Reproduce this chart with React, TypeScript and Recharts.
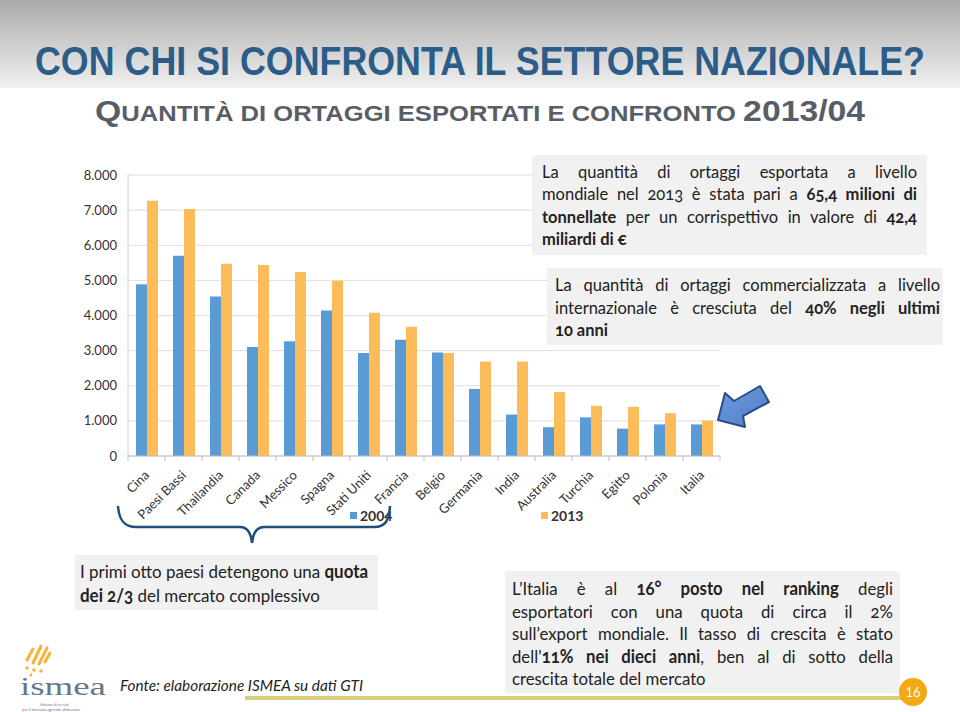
import React from "react";
import { Bar, BarChart, CartesianGrid, Legend, XAxis, YAxis } from "recharts";

// Quantità esportate (migliaia di t)
const countries = [
  "Cina", "Paesi Bassi", "Thailandia", "Canada", "Messico", "Spagna", "Stati Uniti", "Francia",
  "Belgio", "Germania", "India", "Australia", "Turchia", "Egitto", "Polonia", "Italia",
];
const export2004 = [4890, 5700, 4540, 3100, 3270, 4140, 2930, 3310, 2950, 1910, 1180, 820, 1100, 780, 900, 900];
const export2013 = [7270, 7030, 5470, 5440, 5240, 4990, 4080, 3680, 2930, 2690, 2690, 1820, 1430, 1400, 1220, 1010];
const yTicks = [0, 1000, 2000, 3000, 4000, 5000, 6000, 7000, 8000];

const BLUE = "#5b9bd5";
const ORANGE = "#fdbc5a";
const FONT = "Lato, 'Open Sans', sans-serif";
const BAND = (720 - 128) / countries.length;
const TITLE_SX = 0.83;

const fmt = (n: number) => String(n).replace(/\B(?=(\d{3})+(?!\d))/g, ".");

const rows = countries.map((name, i) => ({ name, y2004: export2004[i], y2013: export2013[i] }));

function CountryTick(props: any) {
  const { x, y, payload, index } = props;
  const ax = x + 3.5;
  const ay = y + 20;
  return (
    <g>
      <line x1={x - BAND / 2} x2={x - BAND / 2} y1={y} y2={y + 5} stroke="#bfbfbf" />
      {index === countries.length - 1 && (
        <line x1={x + BAND / 2} x2={x + BAND / 2} y1={y} y2={y + 5} stroke="#bfbfbf" />
      )}
      <text x={ax} y={ay} transform={`rotate(-45 ${ax} ${ay})`} textAnchor="end" fontSize={13} fill="#333" fontFamily={FONT}>
        {payload.value}
      </text>
    </g>
  );
}

function YearLegend({ payload }: any) {
  const pos = [350, 541];
  return (
    <div style={{ position: "relative", width: 740, height: 20 }}>
      {(payload || []).map((p: any, i: number) => (
        <div key={p.value} style={{ position: "absolute", left: pos[i], top: 1, display: "flex", alignItems: "center", fontFamily: FONT, fontSize: 14, fontWeight: 700, color: "#333" }}>
          <span style={{ display: "inline-block", width: 7, height: 7, background: p.color, marginRight: 3 }} />
          <span>{p.value}</span>
        </div>
      ))}
    </div>
  );
}

type Line = { content: React.ReactNode; justify?: boolean };

function TextBox({ left, top, width, height, padL, padT, textW, lineH, size, scale, lines }: {
  left: number; top: number; width: number; height: number; padL: number; padT: number;
  textW: number; lineH: number; size: number; scale: number; lines: Line[];
}) {
  return (
    <div style={{ position: "absolute", left, top, width, height, background: "#f1f1f1", overflow: "hidden" }}>
      <div style={{ position: "absolute", left: padL, top: padT }}>
        {lines.map((l, i) => (
          <div key={i} style={{
            width: textW / scale, height: lineH, lineHeight: `${lineH}px`, fontSize: size, fontFamily: FONT,
            color: "#222", transform: `scaleX(${scale})`, transformOrigin: "0 0", whiteSpace: "nowrap",
            textAlign: l.justify ? "justify" : "left", textAlignLast: l.justify ? "justify" : "left",
            fontVariantNumeric: "oldstyle-nums",
          }}>
            {l.content}
          </div>
        ))}
      </div>
    </div>
  );
}

export default function App() {
  return (
    <div style={{ position: "absolute", left: 0, top: 0, width: 960, height: 712, background: "#fff", overflow: "hidden", fontFamily: FONT }}>
      <div style={{ position: "absolute", left: 0, top: 0, width: 960, height: 88, background: "linear-gradient(#a9a9a9, #b9b9b9 20%, #f0f0f0)" }} />
      <svg width={960} height={130} style={{ position: "absolute", left: 0, top: 0 }}>
        <g transform={`translate(35 75) scale(${TITLE_SX} 1)`}>
          <text x={0} y={0} textLength={890 / TITLE_SX} lengthAdjust="spacingAndGlyphs" fontFamily="'Liberation Sans', Arial, sans-serif" fontWeight={700} fontSize={40} fill="#2c5d89">
            CON CHI SI CONFRONTA IL SETTORE NAZIONALE?
          </text>
        </g>
        <text x={95} y={121} textLength={770} lengthAdjust="spacingAndGlyphs" fontFamily="'Liberation Sans', Arial, sans-serif" fontWeight={700} fill="#585e67">
          <tspan fontSize={29}>Q</tspan>
          <tspan fontSize={22}>UANTITÀ DI ORTAGGI ESPORTATI E CONFRONTO </tspan>
          <tspan fontSize={29}>2013/04</tspan>
        </text>
      </svg>

      <div style={{ position: "absolute", left: 0, top: 160 }}>
        <BarChart width={740} height={366} data={rows} margin={{ top: 15, right: 20, left: 68, bottom: 0 }} barGap={0} barCategoryGap="21.6%">
          <CartesianGrid vertical={false} stroke="#dedede" />
          <XAxis dataKey="name" interval={0} height={50} tick={<CountryTick />} tickLine={false} tickSize={0} tickMargin={0} axisLine={{ stroke: "#bfbfbf" }} />
          <YAxis domain={[0, 8000]} ticks={yTicks} tickFormatter={fmt} width={60} tickLine={false} tickSize={0} tickMargin={11}
            axisLine={{ stroke: "#d0d0d0" }} tick={{ fill: "#333", fontSize: 13, fontFamily: FONT }} />
          <Legend verticalAlign="bottom" content={<YearLegend />} wrapperStyle={{ left: 0, width: 740 }} />
          <Bar dataKey="y2004" name="2004" fill={BLUE} isAnimationActive={false} />
          <Bar dataKey="y2013" name="2013" fill={ORANGE} isAnimationActive={false} />
        </BarChart>
      </div>

      <TextBox left={532} top={155} width={395} height={100} padL={10} padT={6} textW={375} lineH={22.3} size={16.5} scale={1}
        lines={[
          { content: "La quantità di ortaggi esportata a livello", justify: true },
          { content: <>mondiale nel 2013 è stata pari a <b>65,4 milioni di</b></>, justify: true },
          { content: <><b>tonnellate</b> per un corrispettivo in valore di <b>42,4</b></>, justify: true },
          { content: <b>miliardi di €</b> },
        ]} />
      <TextBox left={547} top={268} width={396} height={77} padL={8} padT={6} textW={385} lineH={22.5} size={16.5} scale={1}
        lines={[
          { content: "La quantità di ortaggi commercializzata a livello", justify: true },
          { content: <>internazionale è cresciuta del <b>40% negli ultimi</b></>, justify: true },
          { content: <b>10 anni</b> },
        ]} />
      <TextBox left={75} top={555} width={303} height={55} padL={5} padT={5} textW={295} lineH={23.5} size={18} scale={0.94}
        lines={[
          { content: <>I primi otto paesi detengono una <b>quota</b></> },
          { content: <><b>dei 2/3</b> del mercato complessivo</> },
        ]} />
      <TextBox left={505} top={571} width={395} height={122} padL={7} padT={6} textW={381} lineH={22.5} size={18} scale={0.93}
        lines={[
          { content: <>L’Italia è al <b>16° posto nel ranking</b> degli</>, justify: true },
          { content: "esportatori con una quota di circa il 2%", justify: true },
          { content: "sull’export mondiale. Il tasso di crescita è stato", justify: true },
          { content: <>dell’<b>11% nei dieci anni</b>, ben al di sotto della</>, justify: true },
          { content: "crescita totale del mercato" },
        ]} />

      <svg width={960} height={712} style={{ position: "absolute", left: 0, top: 0, pointerEvents: "none" }}>
        {/* parentesi sotto i primi otto paesi */}
        <path d="M118,506 C119,520 124,527 136,527 L240,527 C247,527 251,533 252,543 C253,533 257,527 264,527 L374,527 C386,527 389,520 390,506"
          fill="none" stroke="#1f4e79" strokeWidth={2.5} />
        {/* freccia verso l'Italia */}
        <defs>
          <linearGradient id="arr" x1="0" y1="0" x2="1" y2="1">
            <stop offset="0" stopColor="#6f9be0" />
            <stop offset="1" stopColor="#4f7cc6" />
          </linearGradient>
        </defs>
        <polygon points="718,420 725,393 734,401 760,386 769,402 743,416 745,427"
          fill="url(#arr)" stroke="#2b4d84" strokeWidth={2} strokeLinejoin="round" />
        {/* logo */}
        <g stroke="#f5b43a" strokeWidth={3} strokeLinecap="round">
          <line x1={27} y1={660} x2={33} y2={649} />
          <line x1={33} y1={663} x2={41} y2={646} />
          <line x1={39} y1={664} x2={47} y2={648} />
          <line x1={45} y1={662} x2={50} y2={653} />
        </g>
        <g fill="#f5b43a">
          <circle cx={27} cy={668} r={1.8} />
          <circle cx={34} cy={670} r={1.8} />
          <circle cx={41} cy={671} r={1.8} />
          <circle cx={31} cy={675} r={1.4} />
        </g>
        <text x={20} y={695} textLength={86} lengthAdjust="spacingAndGlyphs" fontFamily="'Liberation Serif', serif" fontSize={26} fill="#66768e">ismea</text>
        <text x={40} y={706} fontSize={4} fill="#777" fontFamily={FONT}>Istituto di servizi</text>
        <text x={22} y={711} fontSize={4} fill="#777" fontFamily={FONT}>per il mercato agricolo alimentare</text>
        <text x={120} y={691} fontSize={16} fontStyle="italic" fill="#222" fontFamily={FONT} textLength={243} lengthAdjust="spacingAndGlyphs">
          Fonte: elaborazione ISMEA su dati GTI
        </text>
        {/* linea e numero pagina */}
        <rect x={245} y={696} width={660} height={4} fill="#d8cd7e" />
        <circle cx={913} cy={692} r={14} fill="#f3a814" />
        <text x={913} y={697} textAnchor="middle" fontSize={13} fill="#fff" fontFamily={FONT}>16</text>
      </svg>
    </div>
  );
}
